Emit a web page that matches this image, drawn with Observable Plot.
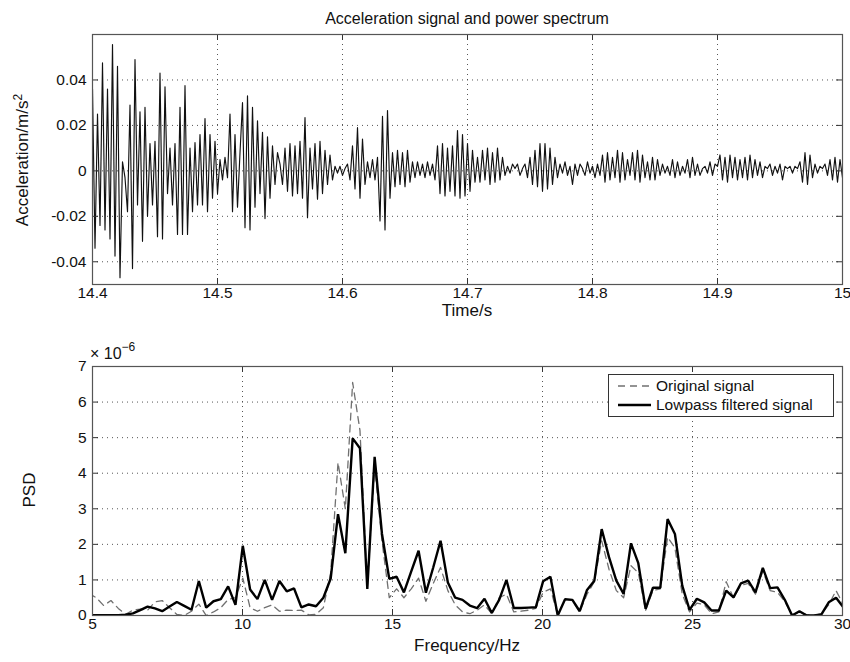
<!DOCTYPE html>
<html><head><meta charset="utf-8">
<script src="https://cdn.jsdelivr.net/npm/d3@7"></script>
<script src="https://cdn.jsdelivr.net/npm/@observablehq/plot@0.6"></script>
<style>
body{margin:0;background:#fff;font-family:"Liberation Sans",Arial,sans-serif;color:#111;}
#wrap{position:relative;width:850px;height:662px;overflow:hidden;}
.abs{position:absolute;white-space:nowrap;}
.rot{transform:translate(-50%,-50%) rotate(-90deg);}
.ctr{transform:translate(-50%,-50%);}
</style></head><body><div id="wrap"></div>
<script>
const timeStart = 14.4;
const timeStep = 0.002;
const acceleration = [
 0.036,-0.034,0.025,-0.024,0.0475,-0.026,0.036,-0.03,0.0556,-0.0375,
 0.046,-0.047,0.004,-0.003,-0.018,0.029,-0.043,0.049,-0.015,0.026,
 -0.031,0.028,-0.02,0.012,-0.015,0.013,-0.029,0.043,-0.03,0.037,
 -0.01,0.01,-0.015,0.012,-0.028,0.028,-0.028,0.0375,-0.028,0.01,
 -0.018,0.0125,-0.015,0.016,-0.015,0.023,-0.018,0.016,-0.012,0.013,
 -0.01,0.005,-0.004,0.006,-0.003,0.025,-0.018,0.016,-0.016,0.008,
 0.03,-0.025,0.033,-0.026,0.028,-0.016,0.022,-0.01,0.017,-0.021,
 0.015,-0.012,0.011,-0.006,0.008,0.003,-0.006,0.01,-0.009,0.012,
 -0.011,0.011,-0.01,0.013,-0.012,0.0235,-0.0206,0.01,-0.008,0.012,
 -0.0125,0.013,-0.01,0.009,-0.006,0.007,-0.004,0.002,-0.001,0.002,
 -0.002,0.001,0.003,-0.004,0.011,-0.008,0.019,-0.012,0.014,-0.006,
 0.004,-0.003,0.005,-0.004,0.006,-0.022,0.024,-0.026,0.0265,-0.012,
 0.008,-0.007,0.009,-0.006,0.008,-0.007,0.009,-0.005,0.004,-0.003,
 0.004,-0.002,0.003,-0.003,0.004,-0.002,0.003,-0.004,0.011,-0.01,
 0.012,-0.011,0.01,-0.009,0.011,-0.011,0.0177,-0.012,0.016,-0.011,
 0.012,-0.009,0.009,-0.005,0.006,-0.005,0.009,-0.004,0.01,-0.006,
 0.008,-0.005,0.01,-0.004,0.006,-0.002,0.002,-0.001,0.003,0.001,
 0.003,-0.002,0.001,0.003,-0.003,0.006,-0.006,0.009,-0.007,0.012,
 -0.009,0.012,-0.008,0.01,-0.006,0.006,-0.003,0.003,-0.001,0.004,
 -0.002,0.002,-0.006,0.003,-0.002,0.003,0.001,-0.002,0.004,-0.001,
 0.002,-0.003,0.003,-0.002,0.007,-0.005,0.008,-0.004,0.006,-0.003,
 0.009,-0.005,0.008,-0.004,0.005,-0.002,0.008,-0.004,0.009,-0.005,
 0.007,-0.003,0.004,-0.004,0.006,-0.004,0.005,-0.002,0.003,-0.001,
 0.002,-0.002,0.005,-0.003,0.004,-0.002,0.002,-0.001,0.005,-0.003,
 0.006,-0.002,0.003,-0.002,0.001,0.002,-0.001,0.004,-0.002,0.003,
 0.002,0.007,-0.004,0.006,-0.005,0.007,-0.003,0.006,-0.004,0.005,
 -0.003,0.006,-0.004,0.007,-0.003,0.005,-0.002,0.004,-0.003,0.002,
 0.001,0.003,-0.002,0.002,-0.001,0.003,-0.004,0.002,0.001,0.002,
 -0.001,0.002,0.001,0.004,-0.005,0.008,-0.006,0.007,-0.003,0.003,
 -0.001,0.002,0.001,0.003,-0.002,0.005,-0.004,0.006,-0.005,0.005,
 -0.003
];

// ---- Power spectrum (×10^-6), bins k = 20..123 of 1000/4096 Hz ----
const freqStep = 1000 / 4096;
const firstBin = 20;
const psdOriginal = [
 0.62,0.5,0.28,0.42,0.2,0.03,0.15,0.18,0.15,0.38,
 0.42,0.22,0.03,0.0,0.12,0.32,0.0,0.1,0.22,0.45,
 0.5,1.05,0.22,0.12,0.22,0.3,0.12,0.15,0.14,0.15,
 0.02,0.03,0.22,1.2,4.3,3.0,6.55,5.2,0.8,4.2,
 2.1,0.5,0.75,0.5,0.75,1.05,0.4,0.9,1.35,0.7,
 0.3,0.1,0.05,0.15,0.3,0.05,0.5,0.6,0.1,0.12,
 0.15,0.2,0.65,0.75,0.02,0.45,0.42,0.1,0.6,0.95,
 2.1,1.3,0.7,0.5,1.4,1.2,0.15,0.7,0.75,2.2,
 1.9,0.6,0.1,0.35,0.3,0.05,0.1,0.95,0.5,0.85,
 0.9,0.6,1.25,0.7,0.65,0.4,0.02,0.1,0.02,0.0,
 0.05,0.3,0.7,0.3
];
const psdLowpass = [
 0.01,0.01,0.01,0.01,0.01,0.02,0.06,0.15,0.25,0.2,
 0.12,0.25,0.38,0.27,0.16,0.97,0.22,0.4,0.46,0.82,
 0.3,1.96,0.73,0.46,1.0,0.44,0.97,0.68,0.76,0.23,
 0.31,0.26,0.5,1.04,2.85,1.75,4.98,4.7,0.75,4.46,
 2.3,1.03,1.09,0.65,1.24,1.82,0.64,1.35,2.1,0.93,
 0.5,0.44,0.28,0.21,0.47,0.07,0.44,1.0,0.21,0.21,
 0.22,0.23,0.96,1.09,0.0,0.46,0.44,0.12,0.72,0.98,
 2.43,1.64,0.98,0.61,2.03,1.47,0.19,0.78,0.78,2.71,
 2.29,0.84,0.16,0.47,0.37,0.14,0.14,0.7,0.51,0.9,
 0.98,0.65,1.34,0.77,0.79,0.44,0.0,0.12,0.0,0.0,
 0.03,0.37,0.5,0.23
];

// ---- Tick values ----
const timeTicks = [14.4, 14.5, 14.6, 14.7, 14.8, 14.9, 15];
const accelTicks = [-0.04, -0.02, 0, 0.02, 0.04];
const freqTicks = [5, 10, 15, 20, 25, 30];
const psdTicks = [0, 1, 2, 3, 4, 5, 6, 7];

const accData = acceleration.map((v, i) => ({t: timeStart + i * timeStep, a: v}));
const psdData = psdLowpass.map((v, i) => ({f: (firstBin + i) * freqStep, orig: psdOriginal[i], low: v}));

const FONT = "'Liberation Sans', Arial, sans-serif";
const TICKFS = 15.5;
const gridStyle = {stroke: "#444", strokeOpacity: 0.9, strokeDasharray: "1,4", strokeWidth: 1};

function panel({W, H, mt, mb, ml, mr, xdom, ydom, xt, yt, marks}) {
  const ph = H - mt - mb, pw = W - ml - mr, tl = 6;
  return Plot.plot({
    width: W, height: H, marginTop: mt, marginBottom: mb, marginLeft: ml, marginRight: mr,
    style: {fontFamily: FONT, fontSize: TICKFS + "px", color: "#111", background: "transparent", overflow: "visible"},
    x: {domain: xdom, label: null},
    y: {domain: ydom, label: null},
    marks: [
      Plot.gridX(xt.slice(1, -1), gridStyle),
      Plot.gridY(yt.filter(d => d > ydom[0] && d < ydom[1]), gridStyle),
      ...marks,
      Plot.tickX(xt, {insetBottom: ph - tl, stroke: "#333", strokeWidth: 1}),
      Plot.tickX(xt, {insetTop: ph - tl, stroke: "#333", strokeWidth: 1}),
      Plot.tickY(yt, {insetRight: pw - tl, stroke: "#333", strokeWidth: 1}),
      Plot.tickY(yt, {insetLeft: pw - tl, stroke: "#333", strokeWidth: 1}),
      Plot.axisX(xt, {tickSize: 0, tickPadding: 2, tickFormat: d => String(d), fontSize: TICKFS}),
      Plot.axisY(yt, {tickSize: 0, tickPadding: 6, tickFormat: d => String(d), fontSize: TICKFS}),
      Plot.frame({stroke: "#555", strokeWidth: 1.2})
    ]
  });
}

const topPlot = panel({
  W: 850, H: 310, mt: 34, mb: 26, ml: 92, mr: 8,
  xdom: [14.4, 15], ydom: [-0.05, 0.06], xt: timeTicks, yt: accelTicks,
  marks: [Plot.line(accData, {x: "t", y: "a", stroke: "#111", strokeWidth: 1.15, clip: true})]
});

const botPlot = panel({
  W: 850, H: 320, mt: 36, mb: 35, ml: 92, mr: 8,
  xdom: [5, 30], ydom: [0, 7], xt: freqTicks, yt: psdTicks,
  marks: [
    Plot.line(psdData, {x: "f", y: "orig", stroke: "#707070", strokeWidth: 1.3, strokeDasharray: "7,5", clip: true}),
    Plot.line(psdData, {x: "f", y: "low", stroke: "#000", strokeWidth: 2.4, strokeLinejoin: "miter", clip: true})
  ]
});

const wrap = document.getElementById("wrap");
function place(el, top) { el.style.position = "absolute"; el.style.left = "0px"; el.style.top = top + "px"; wrap.appendChild(el); }
place(topPlot, 0);
place(botPlot, 330);

function label(html, x, y, cls, size) {
  const d = document.createElement("div");
  d.className = "abs " + cls;
  d.style.left = x + "px"; d.style.top = y + "px"; d.style.fontSize = size + "px";
  d.innerHTML = html;
  wrap.appendChild(d);
  return d;
}
label("Acceleration signal and power spectrum", 467, 19, "ctr", 16);
label("Acceleration/m/s<sup style='font-size:12px'>2</sup>", 22, 160, "rot", 17);
label("Time/s", 467, 311, "ctr", 17);
label("PSD", 30, 490, "rot", 17);
label("Frequency/Hz", 467, 646, "ctr", 17);
label("× 10<sup style='font-size:12px;position:relative;top:-2px'>−6</sup>", 90, 342, "", 16);

// Legend
const lg = document.createElement("div");
lg.className = "abs";
Object.assign(lg.style, {left: "608px", top: "374px", width: "224px", height: "41px", border: "1px solid #333", background: "#fff", fontSize: "15.5px"});
lg.innerHTML = `
<svg width="40" height="41" style="position:absolute;left:6px;top:0">
 <line x1="3" x2="36" y1="11" y2="11" stroke="#707070" stroke-width="1.3" stroke-dasharray="7,5"/>
 <line x1="3" x2="36" y1="30" y2="30" stroke="#000" stroke-width="2.4"/>
</svg>
<div style="position:absolute;left:47px;top:2px">Original signal</div>
<div style="position:absolute;left:47px;top:21px">Lowpass filtered signal</div>`;
wrap.appendChild(lg);
</script></body></html>
